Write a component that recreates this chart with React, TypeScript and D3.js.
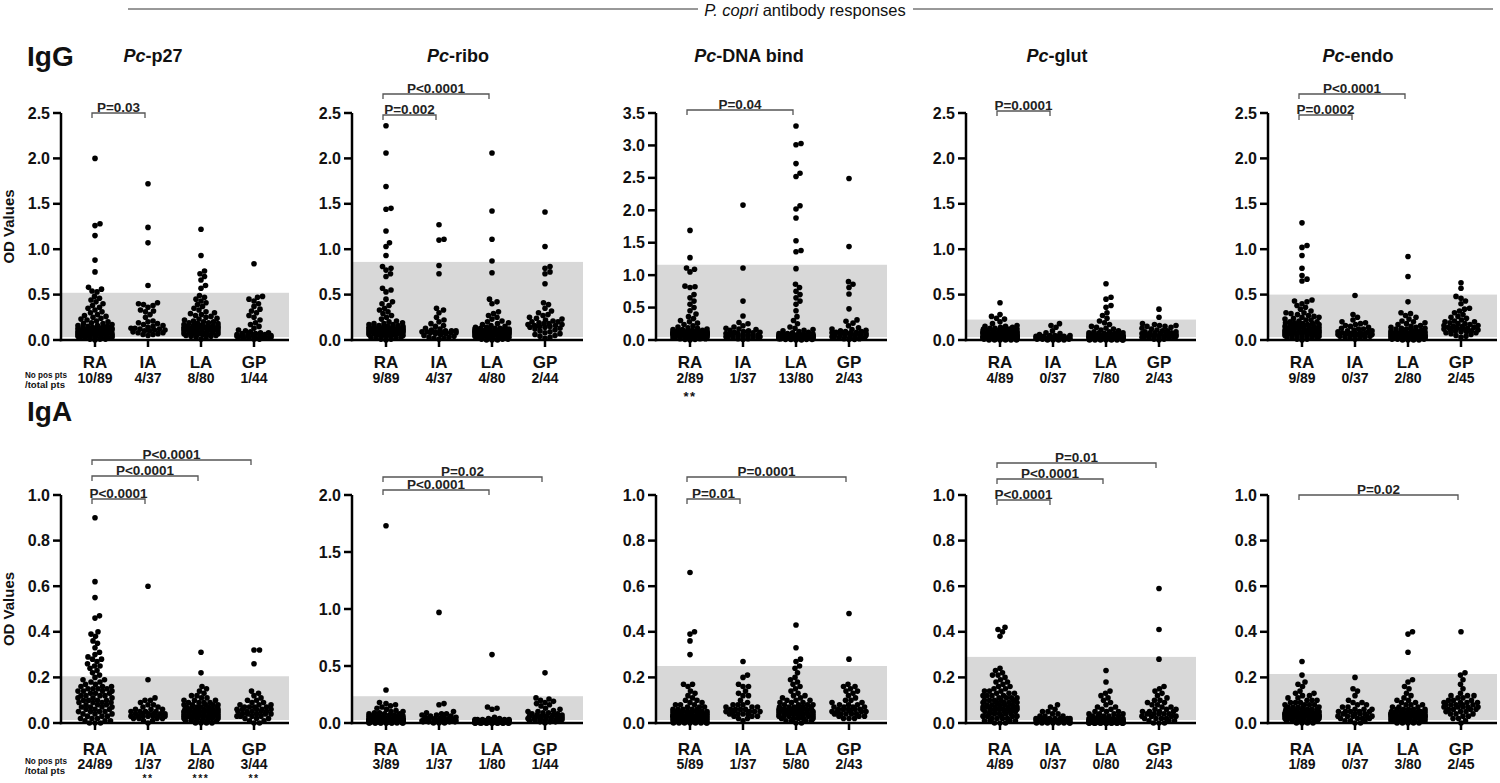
import React from 'react';
import * as d3 from 'd3';

const GROUPS = ['RA', 'IA', 'LA', 'GP'];

// ---------- IgG ----------
const IGG_P27_RA = [2.00,1.28,1.26,1.15,0.88,0.75,0.58,0.56,0.54,0.53,0.48,0.46,0.44,0.42,0.40,0.38,0.36,0.35,0.33,0.31,0.30,0.28,0.27,0.26,0.25,0.24,0.23,0.22,0.21,0.20,0.19,0.18,0.18,0.17,0.16,0.16,0.15,0.15,0.14,0.14,0.14,0.13,0.13,0.13,0.12,0.12,0.12,0.11,0.11,0.11,0.10,0.10,0.10,0.10,0.09,0.09,0.09,0.09,0.08,0.08,0.08,0.08,0.07,0.07,0.07,0.07,0.06,0.06,0.06,0.06,0.05,0.05,0.05,0.05,0.04,0.04,0.04,0.04,0.03,0.03,0.03,0.03,0.02,0.02,0.02,0.01,0.01,0.01,0.00];
const IGG_P27_IA = [1.72,1.24,1.07,0.60,0.41,0.40,0.39,0.38,0.36,0.33,0.32,0.31,0.28,0.25,0.21,0.20,0.19,0.18,0.17,0.16,0.15,0.14,0.13,0.13,0.12,0.12,0.11,0.11,0.10,0.10,0.09,0.08,0.08,0.07,0.06,0.06,0.05];
const IGG_P27_LA = [1.22,0.93,0.76,0.73,0.70,0.66,0.60,0.57,0.49,0.47,0.45,0.43,0.41,0.39,0.37,0.35,0.33,0.31,0.30,0.29,0.28,0.27,0.26,0.25,0.24,0.23,0.22,0.21,0.20,0.20,0.19,0.19,0.18,0.18,0.17,0.17,0.16,0.16,0.16,0.15,0.15,0.15,0.15,0.14,0.14,0.14,0.14,0.13,0.13,0.13,0.13,0.12,0.12,0.12,0.12,0.11,0.11,0.11,0.10,0.10,0.10,0.09,0.09,0.09,0.08,0.08,0.08,0.07,0.07,0.07,0.06,0.06,0.06,0.05,0.05,0.04,0.04,0.03,0.02,0.01];
const IGG_P27_GP = [0.84,0.48,0.47,0.45,0.43,0.40,0.37,0.34,0.32,0.30,0.27,0.25,0.22,0.19,0.17,0.15,0.13,0.11,0.10,0.09,0.08,0.08,0.07,0.07,0.06,0.06,0.06,0.05,0.05,0.05,0.05,0.04,0.04,0.04,0.04,0.03,0.03,0.03,0.03,0.02,0.02,0.02,0.01,0.01];

const IGG_RIBO_RA = [2.36,2.06,1.69,1.45,1.44,1.20,1.07,1.03,0.93,0.81,0.79,0.77,0.73,0.70,0.57,0.55,0.53,0.45,0.42,0.40,0.38,0.35,0.33,0.31,0.29,0.27,0.25,0.23,0.21,0.20,0.19,0.18,0.18,0.17,0.17,0.16,0.16,0.15,0.15,0.15,0.14,0.14,0.14,0.14,0.13,0.13,0.13,0.13,0.12,0.12,0.12,0.12,0.12,0.11,0.11,0.11,0.11,0.11,0.10,0.10,0.10,0.10,0.10,0.09,0.09,0.09,0.09,0.08,0.08,0.08,0.08,0.07,0.07,0.07,0.06,0.06,0.06,0.05,0.05,0.05,0.04,0.04,0.03,0.03,0.02,0.02,0.01,0.01,0.00];
const IGG_RIBO_IA = [1.27,1.11,1.10,0.82,0.73,0.35,0.33,0.30,0.25,0.22,0.20,0.18,0.16,0.15,0.13,0.12,0.11,0.10,0.10,0.10,0.09,0.09,0.09,0.09,0.08,0.08,0.08,0.07,0.07,0.06,0.05,0.04,0.03,0.03,0.02,0.02,0.01];
const IGG_RIBO_LA = [2.06,1.42,1.11,0.87,0.74,0.45,0.42,0.40,0.31,0.29,0.27,0.25,0.23,0.21,0.20,0.19,0.18,0.17,0.16,0.15,0.14,0.14,0.13,0.13,0.13,0.12,0.12,0.12,0.12,0.11,0.11,0.11,0.11,0.11,0.10,0.10,0.10,0.10,0.10,0.10,0.09,0.09,0.09,0.09,0.09,0.09,0.08,0.08,0.08,0.08,0.08,0.08,0.07,0.07,0.07,0.07,0.07,0.06,0.06,0.06,0.06,0.05,0.05,0.05,0.05,0.04,0.04,0.04,0.03,0.03,0.03,0.02,0.02,0.02,0.01,0.01,0.01,0.00,0.00,0.00];
const IGG_RIBO_GP = [1.41,1.03,0.81,0.79,0.75,0.73,0.62,0.41,0.39,0.35,0.32,0.30,0.28,0.27,0.25,0.24,0.23,0.22,0.21,0.20,0.20,0.19,0.18,0.18,0.17,0.17,0.16,0.16,0.15,0.15,0.14,0.14,0.13,0.12,0.11,0.10,0.09,0.08,0.07,0.06,0.05,0.04,0.03,0.02];

const IGG_DNA_RA = [1.69,1.27,1.11,1.09,1.05,0.83,0.82,0.81,0.70,0.65,0.60,0.55,0.50,0.45,0.40,0.36,0.33,0.30,0.28,0.26,0.24,0.22,0.20,0.19,0.18,0.17,0.16,0.16,0.15,0.15,0.14,0.14,0.14,0.13,0.13,0.13,0.13,0.12,0.12,0.12,0.12,0.12,0.11,0.11,0.11,0.11,0.11,0.11,0.10,0.10,0.10,0.10,0.10,0.10,0.10,0.09,0.09,0.09,0.09,0.09,0.09,0.08,0.08,0.08,0.08,0.08,0.07,0.07,0.07,0.07,0.06,0.06,0.06,0.06,0.05,0.05,0.05,0.04,0.04,0.04,0.03,0.03,0.03,0.02,0.02,0.02,0.01,0.01,0.00];
const IGG_DNA_IA = [2.08,1.11,0.60,0.37,0.27,0.25,0.22,0.20,0.18,0.17,0.16,0.15,0.14,0.13,0.12,0.12,0.11,0.10,0.10,0.09,0.09,0.08,0.08,0.07,0.07,0.06,0.06,0.05,0.05,0.05,0.04,0.04,0.03,0.03,0.02,0.02,0.01];
const IGG_DNA_LA = [3.30,3.03,3.01,2.72,2.57,2.52,2.07,2.02,1.88,1.53,1.38,1.36,1.10,0.86,0.81,0.75,0.70,0.65,0.60,0.55,0.45,0.36,0.30,0.25,0.20,0.18,0.16,0.15,0.14,0.13,0.12,0.11,0.10,0.10,0.09,0.09,0.08,0.08,0.08,0.07,0.07,0.07,0.07,0.06,0.06,0.06,0.06,0.06,0.05,0.05,0.05,0.05,0.05,0.05,0.04,0.04,0.04,0.04,0.04,0.04,0.04,0.03,0.03,0.03,0.03,0.03,0.03,0.03,0.02,0.02,0.02,0.02,0.02,0.02,0.01,0.01,0.01,0.01,0.00,0.00];
const IGG_DNA_GP = [2.49,1.44,0.90,0.86,0.81,0.71,0.48,0.31,0.29,0.26,0.22,0.19,0.17,0.16,0.15,0.14,0.13,0.13,0.12,0.12,0.11,0.11,0.10,0.10,0.10,0.09,0.09,0.08,0.08,0.07,0.07,0.06,0.06,0.05,0.05,0.04,0.04,0.03,0.03,0.02,0.02,0.01,0.01];

const IGG_GLUT_RA = [0.41,0.28,0.26,0.24,0.23,0.20,0.18,0.16,0.15,0.15,0.14,0.14,0.13,0.13,0.12,0.12,0.12,0.11,0.11,0.11,0.10,0.10,0.10,0.10,0.09,0.09,0.09,0.09,0.09,0.08,0.08,0.08,0.08,0.08,0.07,0.07,0.07,0.07,0.07,0.06,0.06,0.06,0.06,0.06,0.06,0.05,0.05,0.05,0.05,0.05,0.05,0.05,0.04,0.04,0.04,0.04,0.04,0.04,0.04,0.04,0.03,0.03,0.03,0.03,0.03,0.03,0.03,0.03,0.02,0.02,0.02,0.02,0.02,0.02,0.02,0.02,0.01,0.01,0.01,0.01,0.01,0.01,0.01,0.00,0.00,0.00,0.00,0.00,0.00];
const IGG_GLUT_IA = [0.18,0.16,0.14,0.10,0.08,0.07,0.06,0.05,0.05,0.05,0.04,0.04,0.04,0.04,0.03,0.03,0.03,0.03,0.03,0.03,0.02,0.02,0.02,0.02,0.02,0.02,0.02,0.01,0.01,0.01,0.01,0.01,0.01,0.00,0.00,0.00,0.00];
const IGG_GLUT_LA = [0.62,0.47,0.45,0.38,0.36,0.30,0.27,0.24,0.21,0.19,0.17,0.15,0.14,0.13,0.12,0.11,0.10,0.09,0.09,0.08,0.08,0.07,0.07,0.07,0.06,0.06,0.06,0.06,0.05,0.05,0.05,0.05,0.05,0.04,0.04,0.04,0.04,0.04,0.04,0.03,0.03,0.03,0.03,0.03,0.03,0.03,0.03,0.02,0.02,0.02,0.02,0.02,0.02,0.02,0.02,0.02,0.01,0.01,0.01,0.01,0.01,0.01,0.01,0.01,0.01,0.00,0.00,0.00,0.00,0.00,0.00,0.00,0.00,0.03,0.04,0.05,0.02,0.01,0.06,0.08];
const IGG_GLUT_GP = [0.34,0.25,0.18,0.17,0.16,0.16,0.15,0.15,0.14,0.13,0.12,0.11,0.10,0.10,0.09,0.09,0.08,0.08,0.08,0.07,0.07,0.07,0.06,0.06,0.06,0.05,0.05,0.05,0.05,0.04,0.04,0.04,0.04,0.03,0.03,0.03,0.03,0.02,0.02,0.02,0.01,0.01,0.00];

const IGG_ENDO_RA = [1.29,1.04,1.02,0.93,0.79,0.71,0.67,0.65,0.44,0.43,0.42,0.40,0.38,0.36,0.34,0.32,0.30,0.30,0.29,0.28,0.27,0.26,0.25,0.25,0.24,0.23,0.22,0.22,0.21,0.20,0.20,0.19,0.19,0.18,0.18,0.17,0.17,0.16,0.16,0.15,0.15,0.15,0.14,0.14,0.14,0.13,0.13,0.13,0.12,0.12,0.12,0.11,0.11,0.11,0.10,0.10,0.10,0.10,0.09,0.09,0.09,0.09,0.08,0.08,0.08,0.08,0.08,0.07,0.07,0.07,0.07,0.06,0.06,0.06,0.06,0.05,0.05,0.05,0.04,0.04,0.04,0.03,0.03,0.03,0.02,0.02,0.01,0.01,0.00];
const IGG_ENDO_IA = [0.49,0.28,0.25,0.22,0.20,0.19,0.18,0.17,0.16,0.15,0.14,0.13,0.12,0.12,0.11,0.10,0.10,0.09,0.09,0.08,0.08,0.07,0.07,0.07,0.06,0.06,0.06,0.05,0.05,0.05,0.04,0.04,0.03,0.03,0.02,0.02,0.01];
const IGG_ENDO_LA = [0.92,0.70,0.42,0.30,0.29,0.27,0.25,0.23,0.21,0.20,0.19,0.18,0.17,0.16,0.15,0.14,0.14,0.13,0.13,0.12,0.12,0.11,0.11,0.10,0.10,0.10,0.09,0.09,0.09,0.08,0.08,0.08,0.08,0.07,0.07,0.07,0.07,0.07,0.06,0.06,0.06,0.06,0.06,0.05,0.05,0.05,0.05,0.05,0.05,0.04,0.04,0.04,0.04,0.04,0.04,0.04,0.03,0.03,0.03,0.03,0.03,0.03,0.03,0.02,0.02,0.02,0.02,0.02,0.02,0.01,0.01,0.01,0.01,0.01,0.00,0.00,0.00,0.00,0.06,0.05];
const IGG_ENDO_GP = [0.63,0.57,0.48,0.46,0.43,0.40,0.35,0.34,0.32,0.30,0.28,0.26,0.25,0.24,0.22,0.21,0.20,0.20,0.19,0.18,0.18,0.17,0.16,0.16,0.15,0.15,0.14,0.14,0.13,0.13,0.12,0.12,0.11,0.11,0.10,0.10,0.09,0.09,0.08,0.08,0.07,0.06,0.05,0.04,0.03];

// ---------- IgA ----------
const IGA_P27_RA = [0.90,0.62,0.55,0.47,0.46,0.40,0.39,0.38,0.36,0.35,0.33,0.31,0.30,0.29,0.28,0.28,0.27,0.26,0.25,0.25,0.24,0.23,0.22,0.21,0.20,0.19,0.19,0.18,0.18,0.17,0.17,0.16,0.16,0.16,0.15,0.15,0.15,0.15,0.14,0.14,0.14,0.14,0.13,0.13,0.13,0.12,0.12,0.12,0.11,0.11,0.11,0.10,0.10,0.10,0.10,0.09,0.09,0.09,0.08,0.08,0.08,0.07,0.07,0.07,0.06,0.06,0.06,0.05,0.05,0.05,0.04,0.04,0.04,0.03,0.03,0.03,0.02,0.02,0.02,0.01,0.01,0.01,0.00,0.00,0.00,0.12,0.09,0.07,0.05];
const IGA_P27_IA = [0.60,0.19,0.11,0.10,0.10,0.09,0.08,0.08,0.07,0.07,0.06,0.06,0.06,0.05,0.05,0.05,0.05,0.04,0.04,0.04,0.04,0.04,0.04,0.03,0.03,0.03,0.03,0.03,0.03,0.03,0.02,0.02,0.02,0.01,0.01,0.00,0.02];
const IGA_P27_LA = [0.31,0.22,0.16,0.15,0.14,0.13,0.12,0.12,0.11,0.11,0.10,0.10,0.10,0.09,0.09,0.09,0.09,0.08,0.08,0.08,0.08,0.08,0.07,0.07,0.07,0.07,0.07,0.07,0.06,0.06,0.06,0.06,0.06,0.06,0.06,0.05,0.05,0.05,0.05,0.05,0.05,0.05,0.05,0.04,0.04,0.04,0.04,0.04,0.04,0.04,0.04,0.04,0.03,0.03,0.03,0.03,0.03,0.03,0.03,0.03,0.02,0.02,0.02,0.02,0.02,0.02,0.02,0.01,0.01,0.01,0.01,0.01,0.01,0.00,0.00,0.00,0.00,0.05,0.04,0.03];
const IGA_P27_GP = [0.32,0.32,0.26,0.14,0.13,0.12,0.11,0.10,0.10,0.09,0.09,0.08,0.08,0.08,0.07,0.07,0.07,0.07,0.06,0.06,0.06,0.06,0.06,0.05,0.05,0.05,0.05,0.05,0.04,0.04,0.04,0.04,0.04,0.03,0.03,0.03,0.03,0.02,0.02,0.02,0.01,0.01,0.00,0.00];

const IGA_RIBO_RA = [1.73,0.29,0.18,0.17,0.16,0.15,0.14,0.13,0.12,0.11,0.10,0.10,0.09,0.09,0.08,0.08,0.08,0.07,0.07,0.07,0.06,0.06,0.06,0.06,0.05,0.05,0.05,0.05,0.05,0.04,0.04,0.04,0.04,0.04,0.04,0.03,0.03,0.03,0.03,0.03,0.03,0.03,0.03,0.02,0.02,0.02,0.02,0.02,0.02,0.02,0.02,0.02,0.02,0.01,0.01,0.01,0.01,0.01,0.01,0.01,0.01,0.01,0.01,0.01,0.00,0.00,0.00,0.00,0.00,0.00,0.00,0.00,0.00,0.00,0.00,0.00,0.02,0.03,0.01,0.02,0.01,0.04,0.03,0.02,0.01,0.00,0.01,0.02,0.03];
const IGA_RIBO_IA = [0.97,0.17,0.16,0.10,0.09,0.08,0.08,0.07,0.07,0.06,0.06,0.05,0.05,0.05,0.04,0.04,0.04,0.04,0.03,0.03,0.03,0.03,0.03,0.02,0.02,0.02,0.02,0.02,0.02,0.01,0.01,0.01,0.01,0.01,0.00,0.00,0.00];
const IGA_RIBO_LA = [0.60,0.14,0.13,0.12,0.05,0.04,0.04,0.03,0.03,0.03,0.03,0.03,0.03,0.03,0.02,0.02,0.02,0.02,0.02,0.02,0.02,0.02,0.02,0.02,0.02,0.02,0.02,0.02,0.02,0.02,0.02,0.02,0.02,0.02,0.01,0.01,0.01,0.01,0.01,0.01,0.01,0.01,0.01,0.01,0.01,0.01,0.01,0.01,0.01,0.01,0.01,0.01,0.01,0.01,0.01,0.01,0.01,0.01,0.01,0.00,0.00,0.00,0.00,0.00,0.00,0.00,0.00,0.00,0.00,0.00,0.00,0.00,0.00,0.00,0.00,0.00,0.00,0.00,0.00,0.00];
const IGA_RIBO_GP = [0.44,0.22,0.21,0.20,0.19,0.18,0.17,0.16,0.15,0.13,0.12,0.11,0.10,0.10,0.09,0.09,0.08,0.08,0.07,0.07,0.07,0.06,0.06,0.06,0.05,0.05,0.05,0.05,0.04,0.04,0.04,0.04,0.03,0.03,0.03,0.03,0.02,0.02,0.02,0.02,0.01,0.01,0.01,0.00];

const IGA_DNA_RA = [0.66,0.40,0.39,0.36,0.30,0.17,0.17,0.16,0.14,0.13,0.12,0.11,0.10,0.10,0.09,0.09,0.08,0.08,0.08,0.07,0.07,0.07,0.06,0.06,0.06,0.06,0.05,0.05,0.05,0.05,0.05,0.05,0.04,0.04,0.04,0.04,0.04,0.04,0.04,0.03,0.03,0.03,0.03,0.03,0.03,0.03,0.03,0.02,0.02,0.02,0.02,0.02,0.02,0.02,0.02,0.02,0.01,0.01,0.01,0.01,0.01,0.01,0.01,0.01,0.01,0.01,0.00,0.00,0.00,0.00,0.00,0.00,0.00,0.00,0.05,0.04,0.03,0.02,0.01,0.06,0.05,0.04,0.03,0.02,0.01,0.02,0.03,0.04,0.05];
const IGA_DNA_IA = [0.27,0.21,0.20,0.17,0.16,0.16,0.14,0.13,0.12,0.12,0.10,0.09,0.08,0.08,0.08,0.07,0.07,0.07,0.06,0.06,0.06,0.06,0.05,0.05,0.05,0.05,0.05,0.04,0.04,0.04,0.04,0.03,0.03,0.03,0.02,0.02,0.01];
const IGA_DNA_LA = [0.43,0.33,0.28,0.27,0.25,0.24,0.22,0.20,0.19,0.18,0.17,0.16,0.15,0.14,0.13,0.12,0.12,0.11,0.11,0.10,0.10,0.10,0.09,0.09,0.09,0.08,0.08,0.08,0.08,0.07,0.07,0.07,0.07,0.07,0.06,0.06,0.06,0.06,0.06,0.06,0.06,0.06,0.05,0.05,0.05,0.05,0.05,0.05,0.05,0.05,0.05,0.04,0.04,0.04,0.04,0.04,0.04,0.04,0.03,0.03,0.03,0.03,0.03,0.03,0.02,0.02,0.02,0.02,0.02,0.01,0.01,0.01,0.01,0.00,0.00,0.06,0.05,0.04,0.07,0.03];
const IGA_DNA_GP = [0.48,0.28,0.17,0.16,0.16,0.15,0.14,0.14,0.13,0.12,0.11,0.10,0.10,0.09,0.09,0.08,0.08,0.08,0.07,0.07,0.07,0.07,0.06,0.06,0.06,0.06,0.06,0.05,0.05,0.05,0.05,0.05,0.04,0.04,0.04,0.04,0.04,0.03,0.03,0.03,0.02,0.02,0.02];

const IGA_GLUT_RA = [0.42,0.41,0.40,0.38,0.24,0.23,0.22,0.21,0.21,0.20,0.19,0.18,0.18,0.17,0.16,0.16,0.15,0.15,0.14,0.14,0.14,0.13,0.13,0.13,0.12,0.12,0.12,0.12,0.11,0.11,0.11,0.11,0.10,0.10,0.10,0.10,0.10,0.09,0.09,0.09,0.09,0.09,0.08,0.08,0.08,0.08,0.08,0.07,0.07,0.07,0.07,0.07,0.07,0.06,0.06,0.06,0.06,0.06,0.06,0.06,0.05,0.05,0.05,0.05,0.05,0.05,0.04,0.04,0.04,0.04,0.04,0.03,0.03,0.03,0.03,0.03,0.02,0.02,0.02,0.02,0.01,0.01,0.01,0.01,0.00,0.00,0.00,0.06,0.07];
const IGA_GLUT_IA = [0.08,0.07,0.06,0.05,0.05,0.04,0.04,0.03,0.03,0.03,0.02,0.02,0.02,0.02,0.02,0.02,0.01,0.01,0.01,0.01,0.01,0.01,0.01,0.01,0.01,0.01,0.01,0.00,0.00,0.00,0.00,0.00,0.00,0.00,0.00,0.01,0.02];
const IGA_GLUT_LA = [0.23,0.18,0.14,0.13,0.12,0.11,0.10,0.09,0.08,0.07,0.07,0.06,0.06,0.05,0.05,0.05,0.04,0.04,0.04,0.04,0.03,0.03,0.03,0.03,0.03,0.02,0.02,0.02,0.02,0.02,0.02,0.02,0.01,0.01,0.01,0.01,0.01,0.01,0.01,0.01,0.01,0.01,0.01,0.01,0.01,0.01,0.01,0.01,0.01,0.01,0.01,0.01,0.01,0.01,0.01,0.01,0.00,0.00,0.00,0.00,0.00,0.00,0.00,0.00,0.00,0.00,0.00,0.00,0.00,0.00,0.00,0.00,0.00,0.00,0.00,0.00,0.00,0.00,0.00,0.00];
const IGA_GLUT_GP = [0.59,0.41,0.28,0.16,0.15,0.14,0.13,0.12,0.11,0.10,0.10,0.09,0.09,0.08,0.08,0.07,0.07,0.06,0.06,0.06,0.05,0.05,0.05,0.05,0.04,0.04,0.04,0.04,0.04,0.03,0.03,0.03,0.03,0.02,0.02,0.02,0.02,0.01,0.01,0.01,0.00,0.00,0.00];

const IGA_ENDO_RA = [0.27,0.21,0.18,0.17,0.16,0.14,0.13,0.13,0.12,0.12,0.11,0.11,0.10,0.10,0.10,0.09,0.09,0.09,0.08,0.08,0.08,0.08,0.07,0.07,0.07,0.07,0.07,0.06,0.06,0.06,0.06,0.06,0.06,0.05,0.05,0.05,0.05,0.05,0.05,0.05,0.05,0.04,0.04,0.04,0.04,0.04,0.04,0.04,0.04,0.04,0.03,0.03,0.03,0.03,0.03,0.03,0.03,0.03,0.03,0.03,0.02,0.02,0.02,0.02,0.02,0.02,0.02,0.02,0.01,0.01,0.01,0.01,0.01,0.01,0.00,0.00,0.00,0.00,0.03,0.04,0.05,0.03,0.02,0.04,0.05,0.06,0.03,0.04,0.02];
const IGA_ENDO_IA = [0.20,0.15,0.14,0.12,0.10,0.09,0.09,0.08,0.08,0.07,0.07,0.06,0.06,0.06,0.05,0.05,0.05,0.05,0.05,0.04,0.04,0.04,0.04,0.03,0.03,0.03,0.03,0.03,0.02,0.02,0.02,0.02,0.01,0.01,0.01,0.00,0.00];
const IGA_ENDO_LA = [0.40,0.39,0.31,0.19,0.18,0.16,0.15,0.13,0.12,0.11,0.10,0.10,0.09,0.09,0.08,0.08,0.08,0.07,0.07,0.07,0.06,0.06,0.06,0.06,0.05,0.05,0.05,0.05,0.05,0.04,0.04,0.04,0.04,0.04,0.04,0.04,0.03,0.03,0.03,0.03,0.03,0.03,0.03,0.03,0.02,0.02,0.02,0.02,0.02,0.02,0.02,0.02,0.01,0.01,0.01,0.01,0.01,0.01,0.01,0.00,0.00,0.00,0.00,0.00,0.03,0.04,0.05,0.02,0.03,0.04,0.05,0.06,0.02,0.03,0.04,0.01,0.02,0.03,0.04,0.05];
const IGA_ENDO_GP = [0.40,0.22,0.21,0.19,0.17,0.15,0.13,0.12,0.12,0.12,0.11,0.11,0.10,0.10,0.10,0.09,0.09,0.09,0.09,0.08,0.08,0.08,0.08,0.08,0.07,0.07,0.07,0.07,0.07,0.06,0.06,0.06,0.06,0.05,0.05,0.05,0.04,0.04,0.04,0.03,0.03,0.02,0.02,0.01,0.00];

// ---------- labels ----------
const IGG_P27_COUNTS = ['10/89', '4/37', '8/80', '1/44'];
const IGG_RIBO_COUNTS = ['9/89', '4/37', '4/80', '2/44'];
const IGG_DNA_COUNTS = ['2/89', '1/37', '13/80', '2/43'];
const IGG_GLUT_COUNTS = ['4/89', '0/37', '7/80', '2/43'];
const IGG_ENDO_COUNTS = ['9/89', '0/37', '2/80', '2/45'];
const IGA_P27_COUNTS = ['24/89', '1/37', '2/80', '3/44'];
const IGA_RIBO_COUNTS = ['3/89', '1/37', '1/80', '1/44'];
const IGA_DNA_COUNTS = ['5/89', '1/37', '5/80', '2/43'];
const IGA_GLUT_COUNTS = ['4/89', '0/37', '0/80', '2/43'];
const IGA_ENDO_COUNTS = ['1/89', '0/37', '3/80', '2/45'];

const IGG_DNA_STARS = ['**', '', '', ''];
const IGA_P27_STARS = ['', '**', '***', '**'];
const NO_STARS = ['', '', '', ''];

const ANTIGENS = ['p27', 'ribo', 'DNA bind', 'glut', 'endo'];
const IGG_CUTOFFS = [0.52, 0.86, 1.16, 0.225, 0.5];
const IGA_CUTOFFS = [0.205, 0.235, 0.25, 0.29, 0.215];

// ---------- layout ----------
const COLS = [
  { ax: 61, end: 289, tx: 153 },
  { ax: 352, end: 583, tx: 458 },
  { ax: 656, end: 887, tx: 749 },
  { ax: 966, end: 1196, tx: 1057 },
  { ax: 1268, end: 1497, tx: 1358 },
];
const ROWS = [
  { y0: 340, top: 113, labY: 368, cntY: 383, noY: 378, starY: 401, starFs: 13 },
  { y0: 723, top: 495, labY: 754.5, cntY: 768.5, noY: 764, starY: 781.5, starFs: 10.5 },
];

type Bracket = { a: number; b: number; label: string; dy: number };
type PanelSpec = {
  row: number; col: number; max: number; nt: number; band: number;
  data: number[][]; counts: string[]; stars: string[]; brackets: Bracket[];
};

const PANELS: PanelSpec[] = [
  { row: 0, col: 0, max: 2.5, nt: 5, band: IGG_CUTOFFS[0], data: [IGG_P27_RA, IGG_P27_IA, IGG_P27_LA, IGG_P27_GP], counts: IGG_P27_COUNTS, stars: NO_STARS,
    brackets: [{ a: 0, b: 1, label: 'P=0.03', dy: 0 }] },
  { row: 0, col: 1, max: 2.5, nt: 5, band: IGG_CUTOFFS[1], data: [IGG_RIBO_RA, IGG_RIBO_IA, IGG_RIBO_LA, IGG_RIBO_GP], counts: IGG_RIBO_COUNTS, stars: NO_STARS,
    brackets: [{ a: 0, b: 1, label: 'P=0.002', dy: 2 }, { a: 0, b: 2, label: 'P<0.0001', dy: -19 }] },
  { row: 0, col: 2, max: 3.5, nt: 7, band: IGG_CUTOFFS[2], data: [IGG_DNA_RA, IGG_DNA_IA, IGG_DNA_LA, IGG_DNA_GP], counts: IGG_DNA_COUNTS, stars: IGG_DNA_STARS,
    brackets: [{ a: 0, b: 2, label: 'P=0.04', dy: -3 }] },
  { row: 0, col: 3, max: 2.5, nt: 5, band: IGG_CUTOFFS[3], data: [IGG_GLUT_RA, IGG_GLUT_IA, IGG_GLUT_LA, IGG_GLUT_GP], counts: IGG_GLUT_COUNTS, stars: NO_STARS,
    brackets: [{ a: 0, b: 1, label: 'P=0.0001', dy: -2 }] },
  { row: 0, col: 4, max: 2.5, nt: 5, band: IGG_CUTOFFS[4], data: [IGG_ENDO_RA, IGG_ENDO_IA, IGG_ENDO_LA, IGG_ENDO_GP], counts: IGG_ENDO_COUNTS, stars: NO_STARS,
    brackets: [{ a: 0, b: 1, label: 'P=0.0002', dy: 2 }, { a: 0, b: 2, label: 'P<0.0001', dy: -19 }] },
  { row: 1, col: 0, max: 1.0, nt: 5, band: IGA_CUTOFFS[0], data: [IGA_P27_RA, IGA_P27_IA, IGA_P27_LA, IGA_P27_GP], counts: IGA_P27_COUNTS, stars: IGA_P27_STARS,
    brackets: [{ a: 0, b: 1, label: 'P<0.0001', dy: 4 }, { a: 0, b: 2, label: 'P<0.0001', dy: -19 }, { a: 0, b: 3, label: 'P<0.0001', dy: -35 }] },
  { row: 1, col: 1, max: 2.0, nt: 4, band: IGA_CUTOFFS[1], data: [IGA_RIBO_RA, IGA_RIBO_IA, IGA_RIBO_LA, IGA_RIBO_GP], counts: IGA_RIBO_COUNTS, stars: NO_STARS,
    brackets: [{ a: 0, b: 2, label: 'P<0.0001', dy: -5 }, { a: 0, b: 3, label: 'P=0.02', dy: -18 }] },
  { row: 1, col: 2, max: 1.0, nt: 5, band: IGA_CUTOFFS[2], data: [IGA_DNA_RA, IGA_DNA_IA, IGA_DNA_LA, IGA_DNA_GP], counts: IGA_DNA_COUNTS, stars: NO_STARS,
    brackets: [{ a: 0, b: 1, label: 'P=0.01', dy: 4 }, { a: 0, b: 3, label: 'P=0.0001', dy: -18 }] },
  { row: 1, col: 3, max: 1.0, nt: 5, band: IGA_CUTOFFS[3], data: [IGA_GLUT_RA, IGA_GLUT_IA, IGA_GLUT_LA, IGA_GLUT_GP], counts: IGA_GLUT_COUNTS, stars: NO_STARS,
    brackets: [{ a: 0, b: 1, label: 'P<0.0001', dy: 5 }, { a: 0, b: 2, label: 'P<0.0001', dy: -16 }, { a: 0, b: 3, label: 'P=0.01', dy: -32 }] },
  { row: 1, col: 4, max: 1.0, nt: 5, band: IGA_CUTOFFS[4], data: [IGA_ENDO_RA, IGA_ENDO_IA, IGA_ENDO_LA, IGA_ENDO_GP], counts: IGA_ENDO_COUNTS, stars: NO_STARS,
    brackets: [{ a: 0, b: 3, label: 'P=0.02', dy: 0 }] },
];

const FONT = "'Liberation Sans', Arial, Helvetica, sans-serif";
const R = 2.8;
const MAXW = 17;

function swarm(values: number[], y: (v: number) => number) {
  const pts = values.map((v) => ({ v, py: y(v), dx: 0 })).sort((a, b) => b.py - a.py);
  const placed: { dx: number; py: number }[] = [];
  const d = 2 * R * 0.9;
  const cands: number[] = [0];
  for (let k = 0.5; k <= MAXW; k += 0.5) { cands.push(k, -k); }
  for (const p of pts) {
    let best = 0, bestOv = Infinity;
    const near = placed.filter((q) => Math.abs(q.py - p.py) < d);
    for (const c of cands) {
      let ov = 0;
      for (const q of near) {
        const dist = Math.hypot(q.dx - c, q.py - p.py);
        if (dist < d) ov += d - dist;
      }
      if (ov === 0) { best = c; bestOv = 0; break; }
      if (ov < bestOv - 1e-9) { bestOv = ov; best = c; }
    }
    p.dx = best;
    placed.push({ dx: best, py: p.py });
  }
  return pts;
}

function Panel({ p }: { p: PanelSpec }) {
  const col = COLS[p.col];
  const row = ROWS[p.row];
  const y = d3.scaleLinear().domain([0, p.max]).range([row.y0, row.top]);
  const x = d3.scalePoint<string>().domain(GROUPS).range([col.ax + 34, col.ax + 34 + 159]);
  const ticks = y.ticks(p.nt);
  const fmt = d3.format('.1f');
  return (
    <g>
      <rect x={col.ax + 1} y={y(p.band)} width={col.end - col.ax - 1} height={row.y0 - 3 - y(p.band)} fill="#d8d8d8" />
      {p.data.map((vals, gi) => {
        const cx = x(GROUPS[gi])!;
        return swarm(vals, y).map((pt, i) => (
          <circle key={gi + '-' + i} cx={cx + pt.dx} cy={pt.py} r={R} fill="#000" />
        ));
      })}
      <line x1={col.ax} x2={col.ax} y1={row.y0 + 1.25} y2={y(p.max)} stroke="#000" strokeWidth={2.5} />
      <line x1={col.ax - 1.25} x2={col.end} y1={row.y0} y2={row.y0} stroke="#000" strokeWidth={2.5} />
      {ticks.map((t) => (
        <g key={t}>
          <line x1={col.ax - 8} x2={col.ax} y1={y(t)} y2={y(t)} stroke="#000" strokeWidth={2.5} />
          <text x={col.ax - 11} y={y(t) + 5.5} textAnchor="end" fontSize={16} fontWeight="bold" fill="#111">{fmt(t)}</text>
        </g>
      ))}
      {GROUPS.map((g, gi) => (
        <g key={g}>
          <line x1={x(g)} x2={x(g)} y1={row.y0} y2={row.y0 + 7} stroke="#000" strokeWidth={2.5} />
          <text x={x(g)} y={row.labY} textAnchor="middle" fontSize={17} fontWeight="bold" fill="#111">{g}</text>
          <text x={x(g)} y={row.cntY} textAnchor="middle" fontSize={14} fontWeight="bold" fill="#111">{p.counts[gi]}</text>
          {p.stars[gi] && (
            <text x={x(g)} y={row.starY} textAnchor="middle" fontSize={row.starFs} fontWeight="bold" fill="#111" letterSpacing={1.5}>{p.stars[gi]}</text>
          )}
        </g>
      ))}
      {p.brackets.map((b, i) => {
        const x1 = x(GROUPS[b.a])! - 3;
        const x2 = x(GROUPS[b.b])! - 3;
        const yy = row.top + b.dy;
        return (
          <g key={i}>
            <path d={`M${x1},${yy + 5}V${yy}H${x2}V${yy + 5}`} fill="none" stroke="#555" strokeWidth={1.3} />
            <text x={(x1 + x2) / 2} y={yy - 1.5} textAnchor="middle" fontSize={13.5} fontWeight="bold" fill="#222">{b.label}</text>
          </g>
        );
      })}
      {p.row === 0 && (
        <text x={col.tx} y={62} textAnchor="middle" fontSize={18} fontWeight="bold" fill="#111">
          <tspan fontStyle="italic">Pc</tspan>-{ANTIGENS[p.col]}
        </text>
      )}
      {p.col === 0 && (
        <g>
          <text transform={`translate(14,${(row.y0 + row.top) / 2}) rotate(-90)`} textAnchor="middle" fontSize={15} fontWeight="bold" fill="#111">OD Values</text>
          <text x={25} y={row.noY} fontSize={9.5} fontWeight="bold" fill="#111" textLength={42} lengthAdjust="spacingAndGlyphs">No pos pts</text>
          <text x={25} y={row.noY + 10} fontSize={9.5} fontWeight="bold" fill="#111" textLength={40} lengthAdjust="spacingAndGlyphs">/total pts</text>
        </g>
      )}
    </g>
  );
}

export default function App() {
  return (
    <svg width={1500} height={783} style={{ position: 'absolute', left: 0, top: 0, background: '#fff' }} fontFamily={FONT}>
      <rect width={1500} height={783} fill="#fff" />
      <line x1={128} x2={698} y1={9} y2={9} stroke="#333" strokeWidth={1} />
      <line x1={913} x2={1493} y1={9} y2={9} stroke="#333" strokeWidth={1} />
      <text x={805} y={16} textAnchor="middle" fontSize={16.5} fill="#111">
        <tspan fontStyle="italic">P. copri</tspan> antibody responses
      </text>
      <text x={27} y={66} fontSize={28} fontWeight="bold" fill="#111">IgG</text>
      <text x={27} y={421} fontSize={28} fontWeight="bold" fill="#111">IgA</text>
      {PANELS.map((p, i) => <Panel key={i} p={p} />)}
    </svg>
  );
}
